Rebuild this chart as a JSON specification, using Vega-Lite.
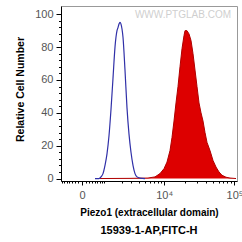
{
  "$schema": "https://vega.github.io/schema/vega-lite/v6.json",
  "width": 176,
  "height": 175,
  "autosize": {"type": "none"},
  "padding": {"left": 61, "top": 6, "right": 5, "bottom": 61},
  "config": {
    "view": {"stroke": "#999999", "strokeWidth": 1},
    "font": "Liberation Sans"
  },
  "title": {
    "text": "15939-1-AP,FITC-H",
    "orient": "bottom",
    "anchor": "middle",
    "fontSize": 11,
    "fontWeight": "bold",
    "font": "Liberation Sans",
    "color": "#000000",
    "offset": 8
  },
  "datasets": {
    "red": [
      {"fl": 610, "count": 0},
      {"fl": 2847, "count": 0.1},
      {"fl": 5657, "count": 0.3},
      {"fl": 7264, "count": 1},
      {"fl": 8653, "count": 3},
      {"fl": 9934, "count": 6},
      {"fl": 11008, "count": 10},
      {"fl": 12189, "count": 17},
      {"fl": 13040, "count": 25},
      {"fl": 13951, "count": 35},
      {"fl": 14918, "count": 46},
      {"fl": 15950, "count": 56},
      {"fl": 17051, "count": 68},
      {"fl": 18222, "count": 79},
      {"fl": 19471, "count": 87},
      {"fl": 20126, "count": 90},
      {"fl": 21499, "count": 90},
      {"fl": 22962, "count": 88},
      {"fl": 24521, "count": 84},
      {"fl": 26184, "count": 76},
      {"fl": 27953, "count": 66},
      {"fl": 29841, "count": 56},
      {"fl": 31851, "count": 46},
      {"fl": 33994, "count": 40},
      {"fl": 36277, "count": 35},
      {"fl": 38712, "count": 28},
      {"fl": 41307, "count": 22},
      {"fl": 45520, "count": 17},
      {"fl": 50157, "count": 11},
      {"fl": 55260, "count": 7},
      {"fl": 60885, "count": 4},
      {"fl": 67063, "count": 2},
      {"fl": 76259, "count": 0.8},
      {"fl": 86703, "count": 0.3},
      {"fl": 105117, "count": 0}
    ],
    "blue": [
      {"fl": 405, "count": 0},
      {"fl": 567, "count": 0},
      {"fl": 656, "count": 1},
      {"fl": 751, "count": 3},
      {"fl": 852, "count": 8},
      {"fl": 960, "count": 15},
      {"fl": 1075, "count": 26},
      {"fl": 1197, "count": 42},
      {"fl": 1328, "count": 61},
      {"fl": 1467, "count": 80},
      {"fl": 1615, "count": 90},
      {"fl": 1700, "count": 92},
      {"fl": 1773, "count": 94},
      {"fl": 1856, "count": 95},
      {"fl": 1941, "count": 94},
      {"fl": 2030, "count": 91},
      {"fl": 2121, "count": 86},
      {"fl": 2312, "count": 66},
      {"fl": 2516, "count": 43},
      {"fl": 2733, "count": 27},
      {"fl": 2964, "count": 16},
      {"fl": 3211, "count": 8},
      {"fl": 3474, "count": 3},
      {"fl": 3754, "count": 1},
      {"fl": 4208, "count": 0.3},
      {"fl": 5070, "count": 0}
    ],
    "mark": [
      {"label": "WWW.PTGLAB.COM"}
    ]
  },
  "resolve": {"axis": {"x": "independent", "y": "independent"}},
  "layer": [
    {
      "data": {"name": "red"},
      "mark": {"type": "area", "color": "#dd0000", "opacity": 1, "fillOpacity": 1, "line": {"color": "#b00000", "strokeWidth": 1}},
      "encoding": {
        "x": {
          "field": "fl", "type": "quantitative",
          "scale": {"type": "symlog", "constant": 790, "domain": [-750, 108500], "nice": false, "zero": false},
          "axis": {
            "orient": "bottom",
            "values": [0, 10000, 100000],
            "labelExpr": "datum.value == 0 ? '0' : (datum.value == 10000 ? '10⁴' : '10⁵')",
            "grid": false,
            "domainColor": "#000000",
            "tickColor": "#000000",
            "tickSize": 4,
            "labelColor": "#555555",
            "labelFontSize": 11,
            "labelPadding": 4,
            "labelFlush": false,
            "labelOverlap": false,
            "title": "Piezo1 (extracellular domain)",
            "titleFontSize": 10,
            "titleFontWeight": "bold",
            "titleColor": "#000000",
            "titlePadding": 7
          }
        },
        "y": {
          "field": "count", "type": "quantitative",
          "scale": {"domain": [-1.5, 105], "nice": false, "zero": false},
          "axis": {
            "orient": "left",
            "values": [0, 20, 40, 60, 80, 100],
            "grid": false,
            "domainColor": "#000000",
            "tickColor": "#000000",
            "tickSize": 5,
            "labelColor": "#555555",
            "labelFontSize": 11,
            "labelPadding": 3,
            "title": "Relative Cell Number",
            "titleFontSize": 10.5,
            "titleFontWeight": "bold",
            "titleColor": "#000000",
            "titlePadding": 9,
            "titleY": 83
          }
        }
      }
    },
    {
      "data": {"name": "blue"},
      "mark": {"type": "line", "color": "#3030a8", "strokeWidth": 1.2, "interpolate": "monotone"},
      "encoding": {
        "x": {
          "field": "fl", "type": "quantitative",
          "axis": {
            "orient": "bottom",
            "values": [-700, -600, -500, -400, -300, -200, -100, 100, 200, 300, 400, 500, 600, 700, 800, 2000, 3000, 4000, 5000, 6000, 7000, 8000, 9000, 20000, 30000, 40000, 50000, 60000, 70000, 80000, 90000],
            "labels": false,
            "grid": false,
            "domain": false,
            "tickColor": "#000000",
            "tickSize": 2,
            "title": null
          }
        },
        "y": {
          "field": "count", "type": "quantitative",
          "axis": {
            "orient": "left",
            "values": [4, 8, 12, 16, 24, 28, 32, 36, 44, 48, 52, 56, 64, 68, 72, 76, 84, 88, 92, 96],
            "labels": false,
            "grid": false,
            "domain": false,
            "tickColor": "#000000",
            "tickSize": 2.5,
            "title": null
          }
        }
      }
    },
    {
      "data": {"name": "mark"},
      "mark": {"type": "text", "fontSize": 10, "color": "#cfcfcf", "font": "Liberation Sans", "align": "center", "baseline": "middle"},
      "encoding": {
        "text": {"field": "label"},
        "x": {"datum": 18800, "type": "quantitative", "axis": null},
        "y": {"datum": 99.4, "type": "quantitative", "axis": null}
      }
    }
  ]
}
